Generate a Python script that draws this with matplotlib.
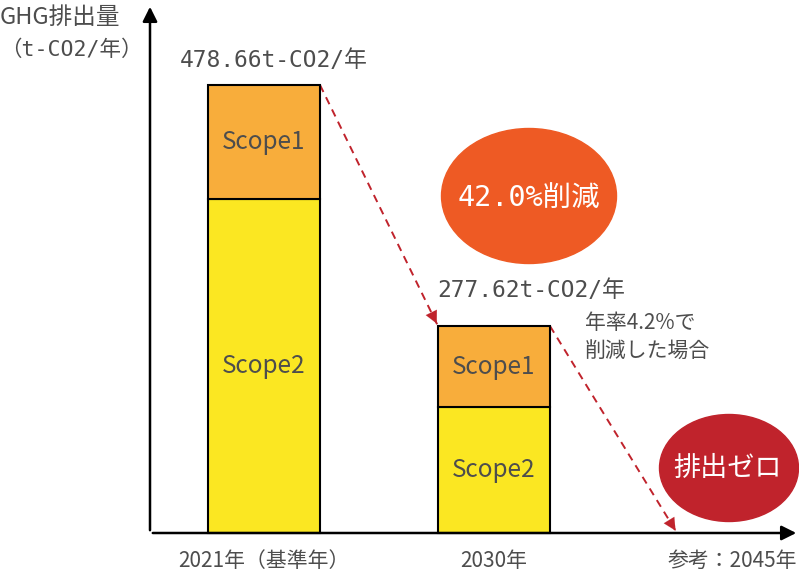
import matplotlib
matplotlib.use("Agg")
import matplotlib.pyplot as plt
from matplotlib.patches import Ellipse

plt.rcParams['font.family'] = ['Noto Sans CJK JP', 'DejaVu Sans']
MONO = ['DejaVu Sans Mono', 'Noto Sans CJK JP']

# data (bar heights)
years = ["2021年（基準年）", "2030年", "参考：2045年"]
x_pos = [264, 494, 677]
scope1 = [121.8, 86.5]
scope2 = [356.9, 134.6]
totals_text = ["478.66t-CO2/年", "277.62t-CO2/年"]
bar_w = 112

PX = 0.9359          # pixels per t-CO2 in the reference
Y0 = 533             # pixel row of the x axis

def vy(p):
    # pixel row -> value
    return (Y0 - p) / PX

gray = "#4d4d4d"
c1 = "#f8ad3b"
c2 = "#fbe722"
red = "#c0232c"
orange = "#ee5a24"

fig = plt.figure(figsize=(7.99, 5.74), dpi=100)
ax = fig.add_axes([0, 0, 1, 1])
ax.set_xlim(0, 799)
ax.set_ylim(vy(574), vy(0))
ax.axis("off")

xb = x_pos[:2]
ax.bar(xb, scope2, width=bar_w, color=c2, edgecolor="black", lw=1.5, zorder=3)
ax.bar(xb, scope1, bottom=scope2, width=bar_w, color=c1, edgecolor="black", lw=1.5, zorder=3)

for i in range(2):
    ax.text(xb[i], scope2[i] + scope1[i] / 2, "Scope1", ha="center", va="center",
            fontsize=17.5, color=gray, zorder=4)
    ax.text(xb[i], scope2[i] / 2, "Scope2", ha="center", va="center",
            fontsize=17.5, color=gray, zorder=4)

t1 = scope1[0] + scope2[0]
t2 = scope1[1] + scope2[1]
ax.text(274, vy(61), totals_text[0], ha="center", va="center",
        fontsize=16.5, color=gray, family=MONO)
ax.text(531, vy(291), totals_text[1], ha="center", va="center",
        fontsize=16.5, color=gray, family=MONO)

# axes with arrows
ax.annotate("", xy=(150, vy(4)), xytext=(150, 0),
            arrowprops=dict(arrowstyle="-|>", color="black", lw=1.8, mutation_scale=22))
ax.annotate("", xy=(799, 0), xytext=(150, 0),
            arrowprops=dict(arrowstyle="-|>", color="black", lw=1.8, mutation_scale=22))

# dashed trend arrows
segs = [((xb[0] + bar_w / 2, t1), (xb[1] - bar_w / 2, t2)),
        ((xb[1] + bar_w / 2, t2), (x_pos[2], 0))]
for (xa, ya), (xe, ye) in segs:
    ax.plot([xa, xe], [ya, ye], ls=(0, (4, 3)), color=red, lw=1.4, zorder=2)
    fx = xe - (xe - xa) * 0.06
    fy = ye - (ye - ya) * 0.06
    ax.annotate("", xy=(xe, ye), xytext=(fx, fy),
                arrowprops=dict(arrowstyle="-|>", color=red, lw=0.1, mutation_scale=22),
                zorder=2)

# ellipses
ax.add_patch(Ellipse((529, vy(196)), 175, 135 / PX, color=orange, zorder=1))
ax.text(529, vy(198), "42.0%削減", ha="center", va="center", fontsize=20.5,
        color="white", family=MONO)
ax.add_patch(Ellipse((729, vy(468)), 139, 107 / PX, color=red, zorder=1))
ax.text(728, vy(468), "排出ゼロ", ha="center", va="center", fontsize=19.5, color="white")

ax.text(585, vy(337), "年率4.2%で\n削減した場合", ha="left", va="center", fontsize=15,
        color=gray, linespacing=1.35)

# axis titles / category labels
ax.text(0, vy(18), "GHG排出量", ha="left", va="center", fontsize=17, color=gray)
ax.text(0, vy(50), "（t-CO2/年）", ha="left", va="center", fontsize=15.5, color=gray,
        family=MONO)
ax.text(x_pos[0], vy(561), years[0], ha="center", va="center", fontsize=15, color=gray)
ax.text(x_pos[1], vy(561), years[1], ha="center", va="center", fontsize=15, color=gray)
ax.text(797, vy(561), years[2], ha="right", va="center", fontsize=15, color=gray)

fig.savefig("out.png", dpi=100)
